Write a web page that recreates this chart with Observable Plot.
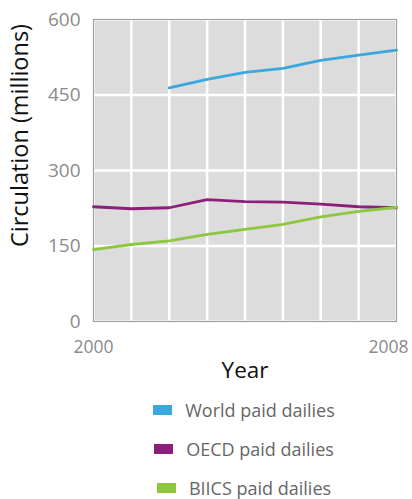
<!DOCTYPE html>
<html>
<head>
<meta charset="utf-8">
<script src="https://cdn.jsdelivr.net/npm/d3@7"></script>
<script src="https://cdn.jsdelivr.net/npm/@observablehq/plot@0.6"></script>
<style>
  html, body { margin: 0; padding: 0; background: #fff; }
  body { width: 412px; height: 499px; overflow: hidden; font-family: "Open Sans", sans-serif; }
  #legend { position: absolute; left: 0; top: 390px; width: 412px; }
  .row { display: flex; justify-content: center; align-items: center; height: 39px; padding-left: 76px; box-sizing: border-box; }
  .sw { width: 19px; height: 10px; margin-right: 13px; }
  .lab { font-size: 18px; line-height: 18px; color: #666; }
</style>
</head>
<body>
<div id="chart"></div>
<div id="legend"></div>
<script>
const years = [2000, 2001, 2002, 2003, 2004, 2005, 2006, 2007, 2008];
const worldYears = [2002, 2003, 2004, 2005, 2006, 2007, 2008];
const worldValues = [464, 481, 495, 503, 519, 529, 539];
const oecdValues = [228, 224, 226, 242, 238, 237, 233, 228, 226];
const biicsValues = [143, 153, 160, 173, 183, 193, 208, 219, 227];
const seriesNames = ["World paid dailies", "OECD paid dailies", "BIICS paid dailies"];
const seriesColors = ["#3aa8dc", "#8b1f7a", "#8dc63f"];
const yTicks = [0, 150, 300, 450, 600];
const xTickLabels = [2000, 2008];
const yTitle = "Circulation (millions)";
const xTitle = "Year";

const rows = [
  ...worldYears.map((y, i) => ({series: seriesNames[0], year: y, value: worldValues[i]})),
  ...years.map((y, i) => ({series: seriesNames[1], year: y, value: oecdValues[i]})),
  ...years.map((y, i) => ({series: seriesNames[2], year: y, value: biicsValues[i]}))
];

const chart = Plot.plot({
  width: 412,
  height: 390,
  marginTop: 19,
  marginBottom: 69,
  marginLeft: 93,
  marginRight: 16,
  style: {fontFamily: "Open Sans, sans-serif", background: "#fff"},
  x: {domain: [2000, 2008]},
  y: {domain: [0, 600]},
  color: {domain: seriesNames, range: seriesColors},
  marks: [
    Plot.frame({fill: "#dcdcdc", stroke: "none"}),
    Plot.gridX(years, {stroke: "#fff", strokeOpacity: 1, strokeWidth: 2.5}),
    Plot.gridY(yTicks, {stroke: "#fff", strokeOpacity: 1, strokeWidth: 2.5}),
    Plot.frame({stroke: "#a0a0a0", strokeWidth: 1.2}),
    Plot.axisY(yTicks, {tickSize: 0, tickPadding: 13, fontSize: 19, fill: "#8a8a8a", label: null}),
    Plot.axisX([xTickLabels[0]], {tickSize: 0, tickPadding: 19, fontSize: 17.5, fill: "#8a8a8a", tickFormat: d3.format("d"), label: null}),
    Plot.axisX([xTickLabels[1]], {tickSize: 0, tickPadding: 19, fontSize: 17.5, fill: "#8a8a8a", tickFormat: d3.format("d"), label: null, dx: -8}),
    Plot.text([yTitle], {frameAnchor: "top-left", dx: -82, dy: 116, rotate: -90, fontSize: 23.5, fill: "#111", textAnchor: "middle"}),
    Plot.text([xTitle], {frameAnchor: "bottom", dy: 56, fontSize: 22.5, fill: "#111"}),
    Plot.line(rows, {x: "year", y: "value", z: "series", stroke: "series", strokeWidth: 2.8})
  ]
});
document.getElementById("chart").append(chart);

const legend = document.getElementById("legend");
seriesNames.forEach((n, i) => {
  const r = document.createElement("div");
  r.className = "row";
  r.innerHTML = `<span class="sw" style="background:${seriesColors[i]}"></span><span class="lab">${n}</span>`;
  legend.append(r);
});
</script>
</body>
</html>
